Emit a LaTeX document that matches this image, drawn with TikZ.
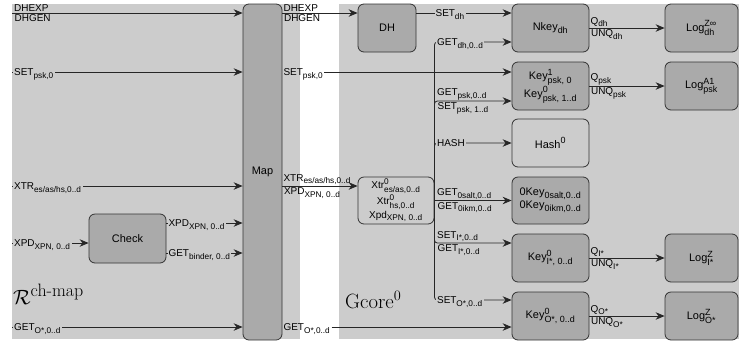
\documentclass[tikz,border=0pt]{standalone}
\usepackage{amsmath}
\usepackage{fontspec}
\usetikzlibrary{arrows.meta, positioning}
\newfontfamily\labfont{Liberation Sans}
\DeclareMathSizes{10}{10}{8.3}{6}
\DeclareMathSizes{11}{11}{9}{7}
\definecolor{zonegray}{HTML}{CCCCCC}
\definecolor{boxgray}{HTML}{AAAAAA}
\newcommand{\tsub}[2]{$\text{#1}_{\text{#2}}$}
\newcommand{\tsubsup}[3]{$\text{#1}^{\text{#2}}_{\text{#3}}$}

\begin{document}
\begin{tikzpicture}[x=1bp, y=-1bp,
  box/.style={rectangle, rounded corners=6bp, draw=black!80, line width=0.8bp, fill=boxgray, align=center, inner sep=1bp, font=\labfont\fontsize{11}{13}\selectfont},
  litebox/.style={box, fill=zonegray},
  lbl/.style={inner sep=1bp, font=\labfont\fontsize{10}{12}\selectfont},
  lblc/.style={lbl, anchor=base west, yshift=-3.6bp},
  lbla/.style={lbl, anchor=south west},
  lblb/.style={lbl, anchor=north west, inner sep=1.5bp},
  arr/.style={-{Stealth[length=9bp, width=7.5bp]}, draw=black!85, line width=0.8bp}
]
\useasboundingbox (0,0) rectangle (739,343);

% Zones
\fill[zonegray] (12,4) rectangle (300,339);
\fill[zonegray] (339,4) rectangle (739,339);

% ch-map side
\node[box, minimum width=39bp, minimum height=336bp] (map) at (262.5,172) {Map};
\node[box, minimum width=77bp, minimum height=49bp] (check) at (127.5,238.5) {Check};
\node[anchor=base west, inner sep=0pt, font=\huge] (rlab) at (13,304) {$\mathcal{R}^{\text{\fontsize{18}{18}\selectfont ch-map}}$};

% Gcore side
\node[box, minimum width=58bp, minimum height=48bp] (dh) at (387,28) {DH};
\node[litebox, minimum width=76bp, minimum height=47bp, font=\labfont\fontsize{10}{11}\selectfont] (xtr) at (396,200.5) {\tsubsup{Xtr}{0}{es/as,0..d}\\\tsubsup{Xtr}{0}{hs,0..d}\\[1bp]\tsub{Xpd}{XPN, 0..d}};
\node[anchor=base west, inner sep=0pt, font=\huge] (glab) at (345,308) {Gcore$^0$};

% Key column
\node[box, minimum width=77bp, minimum height=48bp] (nkey) at (550.5,28) {\tsub{Nkey}{dh}};
\node[box, minimum width=77bp, minimum height=48bp] (keypsk) at (550.5,86) {\tsubsup{Key}{1}{psk, 0}\\\tsubsup{Key}{0}{psk, 1..d}};
\node[litebox, minimum width=77bp, minimum height=48bp] (hash) at (550.5,143) {$\text{Hash}^{\text{0}}$};
\node[box, minimum width=77bp, minimum height=47bp] (okey) at (550.5,200.5) {\tsub{0Key}{0salt,0..d}\\\tsub{0Key}{0ikm,0..d}};
\node[box, minimum width=77bp, minimum height=48bp] (keyi) at (550.5,258) {\tsubsup{Key}{0}{I*, 0..d}};
\node[box, minimum width=77bp, minimum height=48bp] (keyo) at (550.5,316) {\tsubsup{Key}{0}{O*, 0..d}};

% Log column
\node[box, minimum width=73bp, minimum height=48bp] (logdh) at (701.5,28) {\tsubsup{Log}{Z∞}{dh}};
\node[box, minimum width=73bp, minimum height=48bp] (logpsk) at (701.5,86) {\tsubsup{Log}{A1}{psk}};
\node[box, minimum width=73bp, minimum height=48bp] (logi) at (701.5,258) {\tsubsup{Log}{Z}{I*}};
\node[box, minimum width=73bp, minimum height=48bp] (logo) at (701.5,316) {\tsubsup{Log}{Z}{O*}};

% Inputs to Map
\coordinate (iDH) at (12,13);
\coordinate (iPsk) at (12,72);
\coordinate (iXtr) at (12,186);
\coordinate (iXpd) at (12,243);
\coordinate (iGet) at (12,327);

\draw[arr] (iDH) -- (iDH -| map.west);
\draw[arr] (iPsk) -- (iPsk -| map.west);
\draw[arr] (iXtr) -- (iXtr -| map.west);
\draw[arr] (iXpd) -- (iXpd -| check.west);
\draw[arr] (iGet) -- (iGet -| map.west);
\draw[arr] (check.east |- 0,223) -- (map.west |- 0,223);
\draw[arr] (check.east |- 0,253) -- (map.west |- 0,253);

\node[lbla] (ldhexp) at ([xshift=1bp]iDH) {DHEXP};
\node[lblb] (ldhgen) at ([xshift=1bp]iDH) {DHGEN};
\node[lblc, fill=zonegray] (lpsk) at ([xshift=1bp]iPsk) {\tsub{SET}{psk,0}};
\node[lblc, fill=zonegray] (lxtr) at ([xshift=1bp]iXtr) {\tsub{XTR}{es/as/hs,0..d}};
\node[lblc, fill=zonegray] (lxpd) at ([xshift=1bp]iXpd) {\tsub{XPD}{XPN, 0..d}};
\node[lblc, fill=zonegray] (lget) at ([xshift=1bp]iGet) {\tsub{GET}{O*,0..d}};
\node[lblc, fill=zonegray] (lcxpd) at ([xshift=1bp]check.east |- 0,223) {\tsub{XPD}{XPN, 0..d}};
\node[lblc, fill=zonegray] (lcbind) at ([xshift=1bp]check.east |- 0,253) {\tsub{GET}{binder, 0..d}};

% Map outputs
\draw[arr] (map.east |- iDH) -- (dh.west |- iDH);
\draw[arr] (map.east |- iXtr) -- (xtr.west |- iXtr);
\node[lbla] (mdhexp) at (map.east |- iDH) {DHEXP};
\node[lblb] (mdhgen) at (map.east |- iDH) {DHGEN};
\node[lbla] (mxtr) at (map.east |- iXtr) {\tsub{XTR}{es/as/hs,0..d}};
\node[lblb] (mxpd) at (map.east |- iXtr) {\tsub{XPD}{XPN, 0..d}};
\node[lblc] (mpsk) at (map.east |- iPsk) {\tsub{SET}{psk,0}};
\node[lblc] (mget) at (map.east |- iGet) {\tsub{GET}{O*,0..d}};
\draw[arr] (mpsk.east |- iPsk) -- (keypsk.west |- iPsk);
\draw[arr] (mget.east |- iGet) -- (keyo.west |- iGet);

% DH to Nkey
\draw[arr] (dh.east |- iDH) -- (nkey.west |- iDH);
\node[lblc, fill=zonegray] (lsetdh) at (xtr.east |- iDH) {\tsub{SET}{dh}};

% Xtr bus
\draw[arr, rounded corners=3bp] (xtr.east) |- (nkey.west |- 0,42);
\draw[arr, rounded corners=3bp] (xtr.east) |- (keypsk.west |- 0,101);
\draw[arr, rounded corners=3bp] (xtr.east) |- (hash.west);
\draw[arr] (xtr.east) -- (okey.west);
\draw[arr, rounded corners=3bp] (xtr.east) |- (keyi.west |- 0,243);
\draw[arr, rounded corners=3bp] (xtr.east) |- (keyo.west |- 0,300);

\node[lblc, fill=zonegray] (lgetdh) at ([xshift=1.5bp]xtr.east |- 0,42) {\tsub{GET}{dh,0..d}};
\node[lbla] (lgetpsk) at ([xshift=1.5bp]xtr.east |- 0,101) {\tsub{GET}{psk,0..d}};
\node[lblb] (lsetpsk) at ([xshift=1.5bp]xtr.east |- 0,101) {\tsub{SET}{psk, 1..d}};
\node[lblc, fill=zonegray] (lhash) at ([xshift=1.5bp]xtr.east |- hash.west) {HASH};
\node[lbla] (lsalt) at ([xshift=1.5bp]xtr.east) {\tsub{GET}{0salt,0..d}};
\node[lblb] (likm) at ([xshift=1.5bp]xtr.east) {\tsub{GET}{0ikm,0..d}};
\node[lbla] (lseti) at ([xshift=1.5bp]xtr.east |- 0,243) {\tsub{SET}{I*,0..d}};
\node[lblb] (lgeti) at ([xshift=1.5bp]xtr.east |- 0,243) {\tsub{GET}{I*,0..d}};
\node[lblc, fill=zonegray] (lseto) at ([xshift=1.5bp]xtr.east |- 0,300) {\tsub{SET}{O*,0..d}};

% Keys to Logs
\draw[arr] (nkey.east) -- (logdh.west);
\draw[arr] (keypsk.east) -- (logpsk.west);
\draw[arr] (keyi.east) -- (logi.west);
\draw[arr] (keyo.east) -- (logo.west);
\node[lbla] (qdh) at (nkey.east) {\tsub{Q}{dh}};
\node[lblb] (udh) at (nkey.east) {\tsub{UNQ}{dh}};
\node[lbla] (qpsk) at (keypsk.east) {\tsub{Q}{psk}};
\node[lblb] (upsk) at (keypsk.east) {\tsub{UNQ}{psk}};
\node[lbla] (qi) at (keyi.east) {\tsub{Q}{I*}};
\node[lblb] (ui) at (keyi.east) {\tsub{UNQ}{I*}};
\node[lbla] (qo) at (keyo.east) {\tsub{Q}{O*}};
\node[lblb] (uo) at (keyo.east) {\tsub{UNQ}{O*}};

\end{tikzpicture}
\end{document}
